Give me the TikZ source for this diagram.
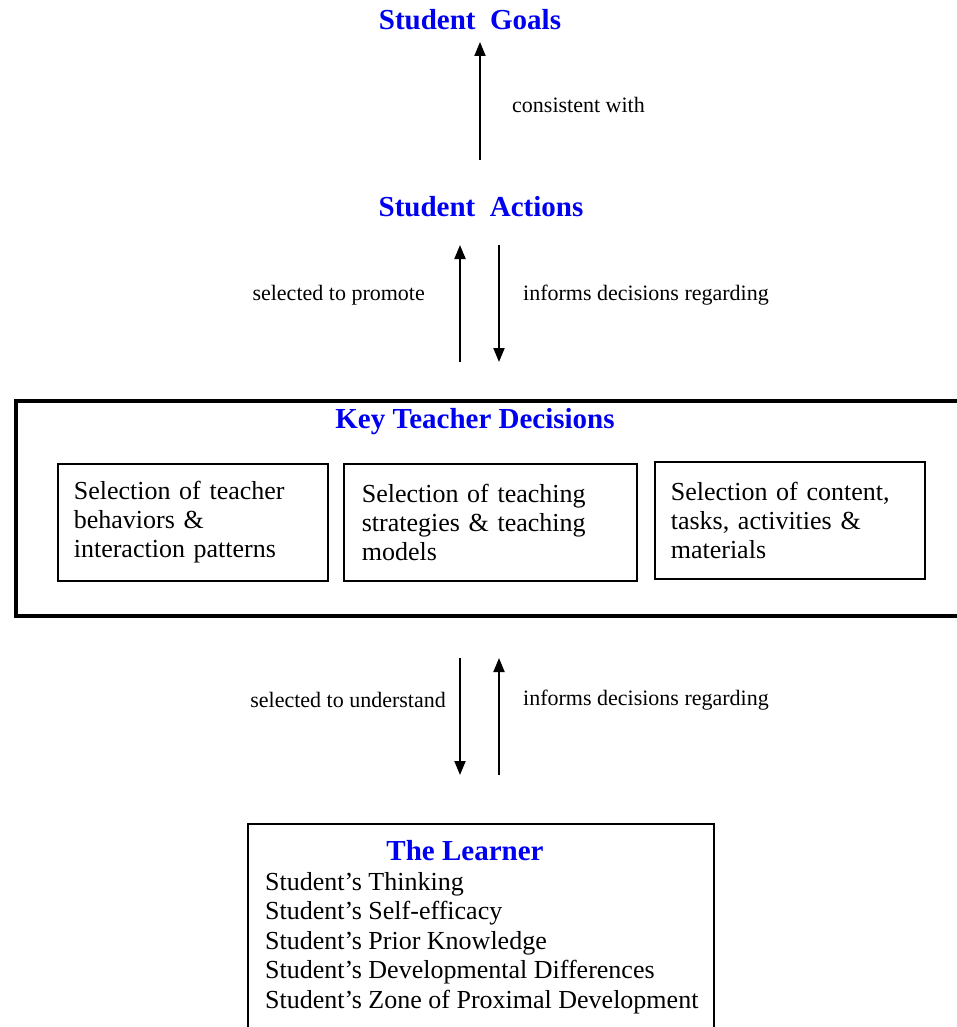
\documentclass[tikz,border=0pt]{standalone}
\usepackage{fontspec}
\setmainfont{Liberation Serif}
\usetikzlibrary{arrows.meta}
\definecolor{headblue}{RGB}{0,0,240}

\begin{document}
\begin{tikzpicture}[x=1pt,y=-1pt,
  heading/.style={text=headblue, font=\fontsize{29}{33}\selectfont\bfseries, inner sep=0pt, anchor=base},
  lbl/.style={font=\fontsize{22}{26}\selectfont, inner sep=0pt},
  item/.style={font=\fontsize{26}{29.5}\selectfont, inner sep=0pt, anchor=base west},
  arr/.style={line width=2pt, -{Triangle[length=14pt,width=11pt]}},
  choicebox/.style={draw, line width=1.6pt, anchor=north west, minimum height=117pt,
    align=left, font=\fontsize{26}{29}\selectfont, inner sep=0pt}
]
\useasboundingbox (0,0) rectangle (957,1027);
\clip (0,0) rectangle (957,1027);

% headings
\node[heading] (goals) at (470,30) {Student\ \ Goals};
\node[heading] (actions) at (481,216) {Student\ \ Actions};

% goals <- actions
\coordinate (g1) at (480,160);
\coordinate (g2) at (480,42);
\draw[arr] (g1) -- (g2);
\node[lbl, anchor=west] (consistent) at (512,105) {consistent with};

% actions <-> decisions
\coordinate (a1) at (460,362);
\coordinate (a2) at (460,245);
\coordinate (a3) at (499,245);
\coordinate (a4) at (499,362);
\draw[arr] (a1) -- (a2);
\draw[arr] (a3) -- (a4);
\node[lbl, anchor=east] (promote) at (425,295) {selected to promote};
\node[lbl, anchor=west] (informsA) at (523,295) {informs decisions regarding};

% key teacher decisions frame
\node[draw, line width=3.5pt, anchor=north west, minimum width=980pt, minimum height=215pt,
  inner sep=0pt] (decisions) at (14,399) {};
\node[heading] (decisionstitle) at (475,428) {Key Teacher Decisions};

\node[choicebox, minimum width=270pt, text width=270pt] (behaviors) at (57,463)
  {\hspace*{16pt}Selection of teacher\\\hspace*{16pt}behaviors \&\\\hspace*{16pt}interaction patterns};
\node[choicebox, minimum width=293pt, text width=293pt] (strategies) at (343,463)
  {\hspace*{18pt}Selection of teaching\\\hspace*{18pt}strategies \& teaching\\\hspace*{18pt}models};
\node[choicebox, minimum width=270pt, text width=270pt] (content) at (654,461)
  {\hspace*{16pt}Selection of content,\\\hspace*{16pt}tasks, activities \&\\\hspace*{16pt}materials};

% decisions <-> learner
\coordinate (b1) at (460,658);
\coordinate (b2) at (460,775);
\coordinate (b3) at (499,775);
\coordinate (b4) at (499,658);
\draw[arr] (b1) -- (b2);
\draw[arr] (b3) -- (b4);
\node[lbl, anchor=east] (understand) at (446,700) {selected to understand};
\node[lbl, anchor=west] (informsB) at (523,700) {informs decisions regarding};

% the learner
\node[draw, line width=1.8pt, anchor=north west, minimum width=466pt, minimum height=240pt,
  inner sep=0pt] (learner) at (247,823) {};
\node[heading] (learnertitle) at (465,860) {The Learner};
\node[item] (l1) at (265,890) {Student’s Thinking};
\node[item] (l2) at (265,919.5) {Student’s Self-efficacy};
\node[item] (l3) at (265,949) {Student’s Prior Knowledge};
\node[item] (l4) at (265,978.5) {Student’s Developmental Differences};
\node[item] (l5) at (265,1008) {Student’s Zone of Proximal Development};
\end{tikzpicture}
\end{document}
